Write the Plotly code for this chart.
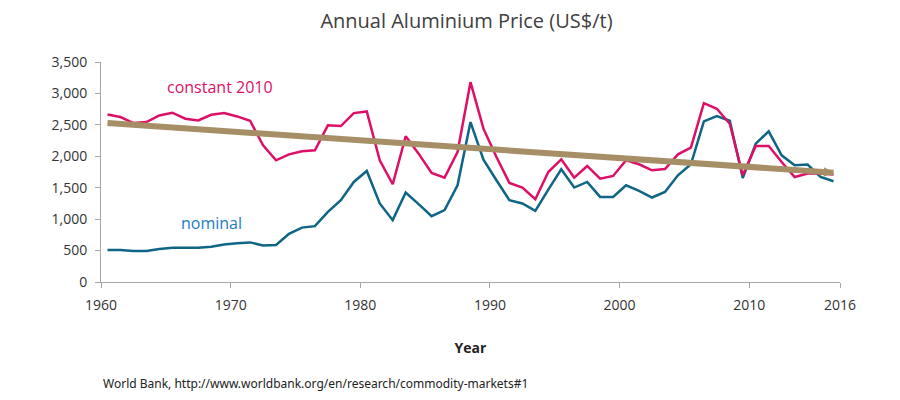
import numpy as np
import plotly.graph_objects as go

years = list(range(1960, 2017))

nominal = [508, 508, 492, 492, 524, 545, 545, 545, 560, 595,
           615, 630, 580, 590, 765, 865, 889, 1116, 1301, 1592,
           1767, 1249, 984, 1423, 1238, 1047, 1143, 1539, 2544, 1947,
           1619, 1301, 1249, 1132, 1471, 1793, 1503, 1592, 1354, 1354,
           1539, 1449, 1344, 1433, 1698, 1873, 2555, 2639, 2565, 1655,
           2201, 2396, 2015, 1857, 1868, 1671, 1603]

constant_2010 = [2666, 2624, 2529, 2545, 2650, 2693, 2598, 2571, 2661, 2687,
                 2634, 2565, 2174, 1936, 2031, 2079, 2095, 2492, 2481, 2687,
                 2714, 1936, 1555, 2317, 2042, 1735, 1661, 2068, 3179, 2439,
                 1989, 1576, 1503, 1317, 1750, 1952, 1661, 1846, 1645, 1687,
                 1936, 1873, 1777, 1798, 2031, 2137, 2846, 2756, 2518, 1698,
                 2163, 2163, 1909, 1671, 1725, 1725, 1709]

trend_years = [1960, 2016]
trend_values = [2529, 1740]

xtick_vals = [1960, 1970, 1980, 1990, 2000, 2010, 2017]
xtick_labels = ["1960", "1970", "1980", "1990", "2000", "2010", "2016"]
ytick_vals = [0, 500, 1000, 1500, 2000, 2500, 3000, 3500]

PINK = "#DD0F66"
BLUE = "#0E6585"
TAN = "#A68F66"

xs = np.array(years) + 0.5
txs = np.array(trend_years) + 0.5

fig = go.Figure()
fig.add_trace(go.Scatter(x=xs, y=nominal, mode="lines",
                         line=dict(color=BLUE, width=2.5), name="nominal"))
fig.add_trace(go.Scatter(x=xs, y=constant_2010, mode="lines",
                         line=dict(color=PINK, width=2.5), name="constant 2010"))
fig.add_trace(go.Scatter(x=txs, y=trend_values, mode="lines",
                         line=dict(color=TAN, width=6), name="trend"))

# arrow head on trend
slope = (trend_values[1] - trend_values[0]) / (txs[1] - txs[0])
fig.add_annotation(x=txs[1], y=trend_values[1], ax=txs[1] - 3,
                   ay=trend_values[1] - 3 * slope,
                   xref="x", yref="y", axref="x", ayref="y", text="",
                   showarrow=True, arrowhead=2, arrowsize=1.6, arrowwidth=1.2,
                   arrowcolor=TAN)

fig.add_annotation(x=1969.2, y=3100, xref="x", yref="y", text="constant 2010",
                   showarrow=False, font=dict(family="Open Sans", size=16, color=PINK))
fig.add_annotation(x=1968.5, y=935, xref="x", yref="y", text="nominal",
                   showarrow=False, font=dict(family="Open Sans", size=16, color="#1A7CC4"))
fig.add_annotation(x=0, y=-0.46, xref="paper", yref="paper", xanchor="left", yanchor="middle",
                   text="World Bank, http://www.worldbank.org/en/research/commodity-markets#1",
                   showarrow=False, font=dict(family="Noto Sans", size=12, color="#222222"))

fig.update_layout(
    width=892, height=392,
    margin=dict(l=93, r=60, t=54, b=118),
    paper_bgcolor="white", plot_bgcolor="white",
    showlegend=False,
    title=dict(text="Annual Aluminium Price (US$/t)", x=0.514, xanchor="center",
               y=0.966, yanchor="middle",
               font=dict(family="Open Sans", size=20, color="#404040")),
    xaxis=dict(range=[1960, 2017], tickvals=xtick_vals, ticktext=xtick_labels,
               showgrid=False, zeroline=False, showline=True, linecolor="#A6A6A6",
               linewidth=1, ticks="outside", ticklen=5, tickcolor="#A6A6A6",
               ticklabelstandoff=5,
               tickfont=dict(family="Open Sans", size=14, color="#333333"),
               title=dict(text="<b>Year</b>", standoff=30,
                          font=dict(family="Open Sans", size=14, color="#222222"))),
    yaxis=dict(range=[0, 3500], tickvals=ytick_vals, tickformat=",",
               showgrid=False, zeroline=False, showline=True, linecolor="#A6A6A6",
               linewidth=1, ticks="outside", ticklen=5, tickcolor="#A6A6A6",
               ticklabelstandoff=5,
               tickfont=dict(family="Open Sans", size=14, color="#333333")),
)

fig.write_html("out.html")
